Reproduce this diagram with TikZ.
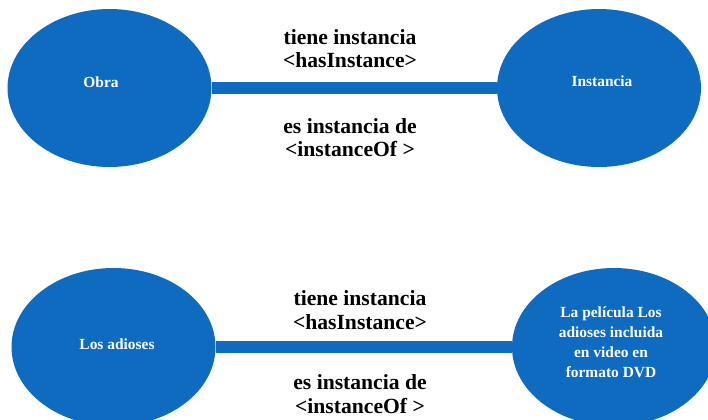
\documentclass[tikz,border=0pt]{standalone}
\usepackage{fontspec}
\setmainfont{Liberation Serif}
\usepackage{xcolor}
\usepackage{tikz}
\usetikzlibrary{shapes.geometric}
\definecolor{relblue}{RGB}{15,107,192}

\tikzset{
  entity/.style={ellipse,fill=relblue,inner sep=0pt,minimum width=204bp,minimum height=158bp},
  entitytext/.style={text=white,font=\fontsize{15.5}{20}\selectfont\bfseries,align=center},
  relline/.style={draw=relblue,line width=12.5bp},
  rellabel/.style={font=\fontsize{21.7}{23.5}\selectfont\bfseries,align=center}
}

\begin{document}
\begin{tikzpicture}[x=1bp,y=-1bp]
      \clip (0,0) rectangle (708,419);
      %%%%%%%%%%%%%%%%%%%%%%%%%%%%%%%%%%%%%%%%%%%%%%%%%%%%%%%%%%%%%%%%%%%%%%%%%%
      %%% BEGIN: GENERAL RELATION.
      %%%%%%%%%%%%%%%%%%%%%%%%%%%%%%%%%%%%%%%%%%%%%%%%%%%%%%%%%%%%%%%%%%%%%%%%%%
      % Entities.
      \node[entity] (obra) at (109.5,88) {};
      \node[entity] (instancia) at (599,88) {};
      \node[entitytext] (obraText) at (101,82) {Obra};
      \node[entitytext] (instanciaText) at (602,81) {Instancia};

      % Relation.
      \draw[relline] (obra) -- (instancia);
      \node[rellabel] (hasTop) at (350,48.5) {tiene instancia\\<hasInstance>};
      \node[rellabel] (ofTop) at (350,137.5) {es instancia de\\<instanceOf >};
      %%%%%%%%%%%%%%%%%%%%%%%%%%%%%%%%%%%%%%%%%%%%%%%%%%%%%%%%%%%%%%%%%%%%%%%%%%
      %%% END: GENERAL RELATION.
      %%%%%%%%%%%%%%%%%%%%%%%%%%%%%%%%%%%%%%%%%%%%%%%%%%%%%%%%%%%%%%%%%%%%%%%%%%

      %%%%%%%%%%%%%%%%%%%%%%%%%%%%%%%%%%%%%%%%%%%%%%%%%%%%%%%%%%%%%%%%%%%%%%%%%%
      %%% BEGIN: EXAMPLE RELATION.
      %%%%%%%%%%%%%%%%%%%%%%%%%%%%%%%%%%%%%%%%%%%%%%%%%%%%%%%%%%%%%%%%%%%%%%%%%%
      % Entities.
      \node[entity] (adioses) at (113.5,347) {};
      \node[entity] (pelicula) at (614,347) {};
      \node[entitytext] (adiosesText) at (117,344) {Los adioses};
      \node[entitytext] (peliculaText) at (611,342) {La película Los\\adioses incluida\\en video en\\formato DVD};

      % Relation.
      \draw[relline] (adioses) -- (pelicula);
      \node[rellabel] (hasBottom) at (360,310) {tiene instancia\\<hasInstance>};
      \node[rellabel] (ofBottom) at (360,394) {es instancia de\\<instanceOf >};
      %%%%%%%%%%%%%%%%%%%%%%%%%%%%%%%%%%%%%%%%%%%%%%%%%%%%%%%%%%%%%%%%%%%%%%%%%%
      %%% END: EXAMPLE RELATION.
      %%%%%%%%%%%%%%%%%%%%%%%%%%%%%%%%%%%%%%%%%%%%%%%%%%%%%%%%%%%%%%%%%%%%%%%%%%
\end{tikzpicture}
\end{document}
